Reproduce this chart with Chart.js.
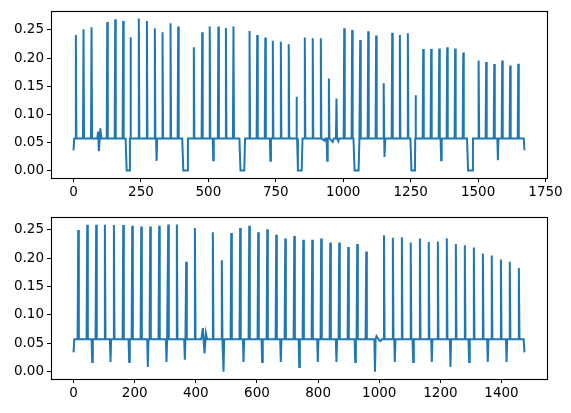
<!DOCTYPE html>
<html>
<head>
<meta charset="utf-8">
<script src="https://cdn.jsdelivr.net/npm/chart.js@4"></script>
<style>
  html, body { margin: 0; padding: 0; background: #fff; }
  #wrap { position: relative; width: 571px; height: 413px; }
  .panel { position: absolute; left: 0; width: 571px; }
  #p1 { top: 0; height: 206px; }
  #p2 { top: 206px; height: 207px; }
</style>
</head>
<body>
<div id="wrap">
  <div class="panel" id="p1"><canvas id="c1"></canvas></div>
  <div class="panel" id="p2"><canvas id="c2"></canvas></div>
</div>
<script>
// values
const baseLevel = 0.057;

const topLast = 1672;
const topStart = 0.036;
const topEnd = 0.036;
const topSpikeX = [8.6, 37, 66.7, 125, 154.5, 184, 211, 242, 272, 301.5, 330, 359.7, 388, 446, 477, 505, 537, 565, 593,
  652.6, 681, 711, 739, 768.7, 798, 827, 857.6, 887, 917, 946.8, 975, 1003.7, 1033, 1063, 1092.6, 1122, 1150,
  1181.6, 1210, 1239.6, 1269, 1296.6, 1326, 1356, 1385.5, 1415, 1445, 1502, 1530, 1560, 1589.5, 1619, 1649];
const topSpikeY = [0.241, 0.251, 0.2546, 0.264, 0.269, 0.266, 0.237, 0.2705, 0.266, 0.253, 0.246, 0.2617, 0.256, 0.219, 0.246, 0.256, 0.256, 0.2535, 0.256,
  0.248, 0.241, 0.2365, 0.2306, 0.2288, 0.2247, 0.131, 0.2365, 0.235, 0.235, 0.1636, 0.128, 0.253, 0.25, 0.232, 0.2476, 0.24, 0.155,
  0.245, 0.241, 0.244, 0.1337, 0.216, 0.216, 0.217, 0.219, 0.217, 0.21, 0.1954, 0.193, 0.1894, 0.1954, 0.1866, 0.19];
const topDipX = [308, 518, 730, 940.5, 1154, 1363, 1573.5];
const topDipY = [0.017, 0.018, 0.017, 0.017, 0.024, 0.018, 0.018];
const topFlatFrom = [197, 407, 619, 832, 1042, 1253, 1463];
const topFlatTo = [207, 421, 633, 846, 1057, 1266, 1478];
const topBumpX = [88, 91, 94, 99.5, 103, 931, 934, 961, 965, 982, 985];
const topBumpY = [0.057, 0.069, 0.034, 0.075, 0.057, 0.053, 0.057, 0.051, 0.057, 0.052, 0.057];

const bottomLast = 1475;
const bottomStart = 0.034;
const bottomEnd = 0.034;
const bottomSpikeX = [15.3, 44.7, 74, 102.5, 132, 162.5, 192, 221.4, 250.8, 280, 309.7, 338, 368.5, 397, 455.7, 485, 515.8,
  545, 574.7, 604, 633.6, 663, 692.5, 722, 751.4, 780.8, 810, 839.7, 869, 898.5, 928, 957.4, 1015.5, 1044.6, 1074,
  1103, 1133, 1162, 1191.7, 1221, 1250.6, 1280, 1309.5, 1339, 1368, 1398, 1427, 1456.7];
const bottomSpikeY = [0.25, 0.259, 0.259, 0.259, 0.2585, 0.2585, 0.2573, 0.256, 0.256, 0.2573, 0.2596, 0.2596, 0.1937, 0.2534, 0.246, 0.1965, 0.2444,
  0.2534, 0.2573, 0.246, 0.251, 0.2416, 0.2348, 0.2393, 0.2326, 0.2326, 0.2348, 0.228, 0.228, 0.22, 0.2252, 0.2117, 0.2404, 0.236, 0.237,
  0.228, 0.2348, 0.2286, 0.2297, 0.2354, 0.2252, 0.223, 0.219, 0.2083, 0.205, 0.198, 0.1937, 0.183];
const bottomDipX = [61, 121, 182, 243, 304, 364, 490.7, 556, 617, 678, 738.3, 799, 860, 921.5, 986, 1051, 1111, 1172, 1233, 1294, 1355, 1416.5];
const bottomDipY = [0.017, 0.017, 0.017, 0.008, 0.017, 0.021, 0.0, 0.017, 0.017, 0.017, 0.008, 0.017, 0.017, 0.017, 0.0, 0.017, 0.017, 0.017, 0.008, 0.017, 0.017, 0.017];
const bottomBumpX = [418, 423, 428.5, 433, 437, 991, 1000, 1004, 1008];
const bottomBumpY = [0.057, 0.077, 0.032, 0.068, 0.057, 0.0625, 0.055, 0.054, 0.057];

const topXTicks = [0, 250, 500, 750, 1000, 1250, 1500, 1750];
const bottomXTicks = [0, 200, 400, 600, 800, 1000, 1200, 1400];
const yTicks = [0, 0.05, 0.1, 0.15, 0.2, 0.25];

function buildSeries(last, start, end, spikeX, spikeY, dipX, dipY, flatFrom, flatTo, bumpX, bumpY) {
  const pts = [[0, start], [2.5, baseLevel], [last - 2.5, baseLevel], [last, end]];
  spikeX.forEach((x, i) => pts.push([x - 2, baseLevel], [x, spikeY[i]], [x + 2, baseLevel]));
  dipX.forEach((x, i) => pts.push([x - 2, baseLevel], [x, dipY[i]], [x + 2, baseLevel]));
  flatFrom.forEach((a, i) => pts.push([a - 4, baseLevel], [a, 0], [flatTo[i], 0], [flatTo[i] + 3, baseLevel]));
  bumpX.forEach((x, i) => pts.push([x, bumpY[i]]));
  return pts.sort((p, q) => p[0] - q[0]).map(([x, y]) => ({ x, y }));
}

const frame = {
  id: "frame",
  afterDraw(chart) {
    const { ctx, chartArea: a } = chart;
    ctx.save();
    ctx.strokeStyle = "#000";
    ctx.lineWidth = 1.1;
    ctx.strokeRect(Math.round(a.left) + 0.5, Math.round(a.top) + 0.5, Math.round(a.right - a.left), Math.round(a.bottom - a.top));
    ctx.restore();
  }
};

Chart.defaults.font.family = "'DejaVu Sans', sans-serif";
Chart.defaults.font.size = 13.5;
Chart.defaults.color = "#000";

function makeChart(id, points, last, xTicks, yMin, yMax, padTop, xHeight) {
  const xPad = 0.05 * last;
  return new Chart(document.getElementById(id), {
    type: "line",
    data: {
      datasets: [{
        data: points,
        borderColor: "#1f77b4",
        borderWidth: 2,
        pointRadius: 0,
        tension: 0,
        fill: false
      }]
    },
    options: {
      responsive: true,
      maintainAspectRatio: false,
      animation: false,
      events: [],
      layout: { padding: { top: padTop, right: 24, left: 0, bottom: 0 } },
      plugins: { legend: { display: false }, tooltip: { enabled: false } },
      scales: {
        x: {
          type: "linear",
          min: -xPad,
          max: last + xPad,
          afterBuildTicks: axis => { axis.ticks = xTicks.map(v => ({ value: v })); },
          afterFit: axis => { axis.height = xHeight; },
          ticks: { padding: 2, maxRotation: 0, autoSkip: false, callback: v => String(v) },
          grid: { drawOnChartArea: false, tickLength: 4, tickColor: "#000", tickWidth: 1 },
          border: { display: false }
        },
        y: {
          min: yMin,
          max: yMax,
          afterBuildTicks: axis => { axis.ticks = yTicks.map(v => ({ value: v })); },
          afterFit: axis => { axis.width = 51; },
          ticks: { padding: 3, autoSkip: false, callback: v => v.toFixed(2) },
          grid: { drawOnChartArea: false, tickLength: 4, tickColor: "#000", tickWidth: 1 },
          border: { display: false }
        }
      }
    },
    plugins: [frame]
  });
}

const topPoints = buildSeries(topLast, topStart, topEnd, topSpikeX, topSpikeY, topDipX, topDipY,
  topFlatFrom, topFlatTo, topBumpX, topBumpY);
const bottomPoints = buildSeries(bottomLast, bottomStart, bottomEnd, bottomSpikeX, bottomSpikeY, bottomDipX, bottomDipY,
  [], [], bottomBumpX, bottomBumpY);

makeChart("c1", topPoints, topLast, topXTicks, -0.0135, 0.2835, 10, 28);
makeChart("c2", bottomPoints, bottomLast, bottomXTicks, -0.013, 0.2726, 5, 34);
</script>
</body>
</html>
